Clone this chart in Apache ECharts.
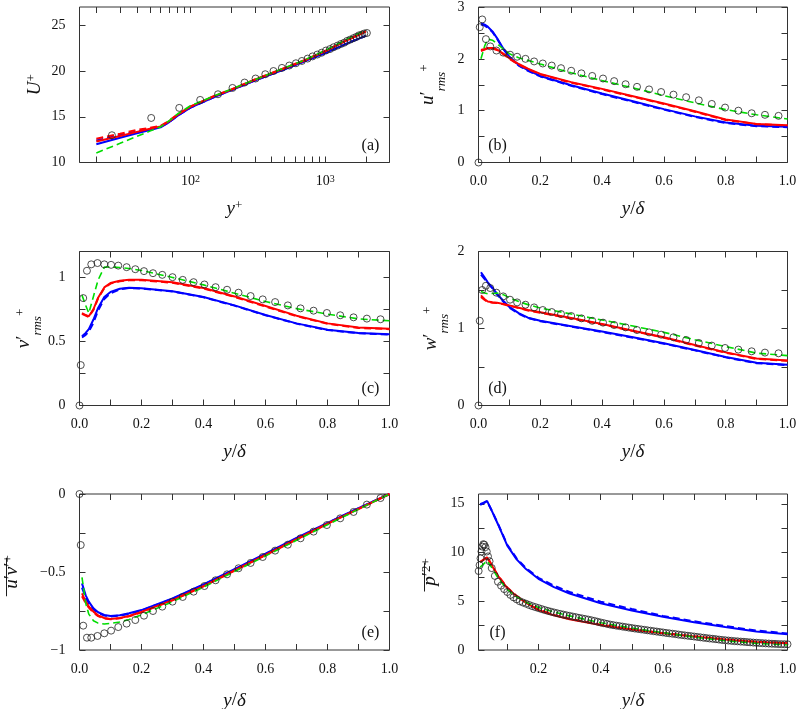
<!DOCTYPE html>
<html><head><meta charset="utf-8">
<script src="https://cdn.jsdelivr.net/npm/echarts@6/dist/echarts.min.js"></script>
<style>html,body{margin:0;padding:0;background:#fff}#c{width:800px;height:709px}</style>
</head><body><div id="c"></div>
<script>
// ---------------- DATA ----------------
// (a) mean velocity, log abscissa y+
const yPlusDNS = [26.1, 51.1, 82.5, 118, 160, 205, 252, 304, 359, 413, 477, 541, 606, 671, 740, 805, 873, 940, 1012, 1084, 1153, 1234, 1309, 1384, 1457, 1535, 1623, 1700, 1779, 1872, 1949, 2038];
const uPlusDNS  = [12.98, 14.87, 15.97, 16.84, 17.46, 18.15, 18.74, 19.18, 19.65, 20.0, 20.34, 20.6, 20.85, 21.1, 21.36, 21.6, 21.8, 22.0, 22.24, 22.4, 22.6, 22.78, 22.96, 23.1, 23.3, 23.44, 23.6, 23.73, 23.9, 23.99, 24.1, 24.16];
const yPlusModel = [20, 30, 40, 50, 60, 70, 80, 100, 150, 200, 300, 500, 700, 1000, 1500, 2000];
const uBlueSolid  = [12.0, 12.7, 13.2, 13.55, 13.85, 14.45, 15.1, 16.0, 17.15, 17.9, 18.95, 20.2, 21.05, 21.95, 23.1, 23.85];
const uBlueDashed = [12.4, 13.0, 13.4, 13.7, 13.9, 14.45, 15.1, 16.0, 17.15, 17.9, 18.95, 20.2, 21.05, 21.95, 23.1, 23.85];
const uRedSolid   = [12.3, 12.9, 13.35, 13.7, 13.95, 14.55, 15.2, 16.1, 17.25, 17.95, 19.05, 20.3, 21.15, 22.15, 23.45, 24.3];
const uRedDashed  = [12.6, 13.15, 13.55, 13.8, 14.0, 14.6, 15.25, 16.12, 17.27, 17.97, 19.07, 20.33, 21.18, 22.2, 23.5, 24.35];
const uGreenDashed= [11.05, 12.1, 12.85, 13.43, 13.9, 14.6, 15.3, 16.2, 17.3, 18.0, 19.05, 20.35, 21.2, 22.25, 23.6, 24.5];

// (b)-(e) DNS points at y/delta
const yDeltaDNS = [0, 0.004, 0.012, 0.024, 0.038, 0.058, 0.08, 0.102, 0.125, 0.152, 0.18, 0.208, 0.237, 0.267, 0.3, 0.333, 0.368, 0.403, 0.439, 0.476, 0.513, 0.552, 0.591, 0.631, 0.672, 0.713, 0.755, 0.798, 0.841, 0.884, 0.927, 0.971];
const uRmsDNS = [0, 2.61, 2.76, 2.38, 2.24, 2.16, 2.12, 2.08, 2.04, 2.0, 1.95, 1.91, 1.87, 1.82, 1.77, 1.72, 1.67, 1.62, 1.57, 1.51, 1.46, 1.41, 1.36, 1.31, 1.26, 1.2, 1.13, 1.06, 1.0, 0.95, 0.92, 0.90];
const vRmsDNS = [0, 0.315, 0.837, 1.05, 1.10, 1.11, 1.10, 1.096, 1.09, 1.078, 1.062, 1.047, 1.031, 1.018, 1.0, 0.979, 0.961, 0.943, 0.922, 0.902, 0.879, 0.853, 0.827, 0.806, 0.78, 0.757, 0.739, 0.721, 0.703, 0.687, 0.677, 0.672];
const wRmsDNS = [0, 1.10, 1.50, 1.555, 1.525, 1.465, 1.417, 1.374, 1.339, 1.309, 1.274, 1.24, 1.214, 1.188, 1.162, 1.132, 1.10, 1.076, 1.045, 1.015, 0.98, 0.95, 0.92, 0.886, 0.851, 0.812, 0.778, 0.747, 0.726, 0.704, 0.687, 0.678];
const uvDNS   = [0, -0.327, -0.844, -0.921, -0.921, -0.91, -0.893, -0.876, -0.853, -0.831, -0.808, -0.78, -0.75, -0.722, -0.69, -0.66, -0.626, -0.59, -0.553, -0.515, -0.476, -0.442, -0.404, -0.363, -0.325, -0.284, -0.241, -0.199, -0.156, -0.115, -0.068, -0.026];

// (b)-(e) model curves
const yDeltaModel = [0.008, 0.02, 0.03, 0.045, 0.06, 0.08, 0.1, 0.13, 0.16, 0.2, 0.3, 0.4, 0.5, 0.6, 0.7, 0.8, 0.9, 1.0];
const uRmsBlueSolid  = [2.69, 2.66, 2.62, 2.53, 2.40, 2.20, 2.04, 1.88, 1.78, 1.67, 1.49, 1.33, 1.18, 1.03, 0.89, 0.77, 0.71, 0.69];
const uRmsBlueDashed = [2.66, 2.64, 2.60, 2.52, 2.39, 2.19, 2.03, 1.87, 1.77, 1.66, 1.48, 1.32, 1.17, 1.02, 0.88, 0.76, 0.70, 0.68];
const uRmsRedSolid   = [2.17, 2.19, 2.21, 2.21, 2.18, 2.10, 2.01, 1.90, 1.81, 1.71, 1.55, 1.42, 1.28, 1.14, 0.99, 0.83, 0.745, 0.72];
const uRmsRedDashed  = [2.15, 2.18, 2.20, 2.20, 2.17, 2.09, 2.00, 1.89, 1.80, 1.70, 1.54, 1.41, 1.27, 1.13, 0.98, 0.82, 0.74, 0.715];
const uRmsGreenDashed= [2.0, 2.25, 2.38, 2.36, 2.29, 2.19, 2.10, 2.02, 1.97, 1.90, 1.73, 1.58, 1.44, 1.29, 1.15, 1.02, 0.92, 0.84];

const vRmsBlueSolid  = [0.54, 0.565, 0.595, 0.67, 0.76, 0.845, 0.885, 0.91, 0.917, 0.914, 0.89, 0.845, 0.78, 0.705, 0.64, 0.59, 0.565, 0.555];
const vRmsBlueDashed = [0.53, 0.55, 0.575, 0.645, 0.74, 0.83, 0.875, 0.905, 0.915, 0.912, 0.888, 0.843, 0.778, 0.703, 0.638, 0.588, 0.563, 0.553];
const vRmsRedSolid   = [0.72, 0.705, 0.695, 0.75, 0.84, 0.92, 0.955, 0.972, 0.979, 0.98, 0.96, 0.915, 0.85, 0.775, 0.70, 0.64, 0.607, 0.598];
const vRmsRedDashed  = [0.715, 0.70, 0.69, 0.745, 0.835, 0.915, 0.95, 0.968, 0.975, 0.976, 0.956, 0.911, 0.846, 0.771, 0.696, 0.637, 0.604, 0.595];
const vRmsGreenDashed= [0.86, 0.78, 0.72, 0.85, 0.978, 1.078, 1.08, 1.075, 1.068, 1.052, 0.998, 0.94, 0.875, 0.81, 0.755, 0.712, 0.675, 0.66];

const wRmsBlueSolid  = [1.73, 1.66, 1.60, 1.53, 1.45, 1.36, 1.28, 1.2, 1.14, 1.10, 1.03, 0.96, 0.886, 0.808, 0.721, 0.63, 0.555, 0.53];
const wRmsBlueDashed = [1.70, 1.64, 1.59, 1.52, 1.44, 1.35, 1.27, 1.19, 1.135, 1.095, 1.025, 0.955, 0.88, 0.803, 0.716, 0.625, 0.55, 0.525];
const wRmsRedSolid   = [1.43, 1.38, 1.35, 1.34, 1.335, 1.32, 1.30, 1.27, 1.24, 1.21, 1.136, 1.058, 0.972, 0.886, 0.786, 0.69, 0.61, 0.585];
const wRmsRedDashed  = [1.41, 1.37, 1.345, 1.335, 1.33, 1.315, 1.295, 1.265, 1.235, 1.205, 1.13, 1.053, 0.967, 0.88, 0.78, 0.685, 0.605, 0.58];
const wRmsGreenDashed= [1.48, 1.46, 1.45, 1.455, 1.46, 1.44, 1.40, 1.35, 1.31, 1.266, 1.188, 1.11, 1.032, 0.95, 0.855, 0.765, 0.68, 0.648];

const uvBlueSolid  = [-0.573, -0.65, -0.69, -0.733, -0.758, -0.775, -0.782, -0.777, -0.765, -0.744, -0.669, -0.579, -0.481, -0.382, -0.282, -0.185, -0.09, 0];
const uvBlueDashed = [-0.6, -0.665, -0.70, -0.74, -0.763, -0.779, -0.785, -0.78, -0.768, -0.747, -0.672, -0.582, -0.484, -0.385, -0.285, -0.187, -0.092, 0];
const uvRedSolid   = [-0.637, -0.69, -0.72, -0.754, -0.778, -0.795, -0.801, -0.795, -0.782, -0.756, -0.68, -0.59, -0.49, -0.39, -0.29, -0.19, -0.095, 0];
const uvRedDashed  = [-0.655, -0.70, -0.728, -0.76, -0.783, -0.798, -0.803, -0.797, -0.784, -0.758, -0.682, -0.592, -0.492, -0.392, -0.292, -0.192, -0.096, 0];
const uvGreenDashed= [-0.534, -0.70, -0.77, -0.812, -0.828, -0.833, -0.83, -0.82, -0.805, -0.775, -0.69, -0.597, -0.497, -0.397, -0.297, -0.197, -0.098, 0];

// (f) pressure fluctuations
const pDeltaDNS = [0.008, 0.011, 0.014, 0.017, 0.02, 0.023, 0.026, 0.03, 0.034, 0.038, 0.043, 0.05, 0.06, 0.07, 0.08, 0.09,
  0.1, 0.11, 0.12, 0.13, 0.14, 0.15, 0.16, 0.17, 0.18, 0.19, 0.2, 0.21, 0.22, 0.23, 0.24, 0.25, 0.26, 0.27, 0.28, 0.29,
  0.3, 0.31, 0.32, 0.33, 0.34, 0.35, 0.36, 0.37, 0.38, 0.39, 0.4, 0.41, 0.42, 0.43, 0.44, 0.45, 0.46, 0.47, 0.48, 0.49,
  0.5, 0.51, 0.52, 0.53, 0.54, 0.55, 0.56, 0.57, 0.58, 0.59, 0.6, 0.61, 0.62, 0.63, 0.64, 0.65, 0.66, 0.67, 0.68, 0.69,
  0.7, 0.71, 0.72, 0.73, 0.74, 0.75, 0.76, 0.77, 0.78, 0.79, 0.8, 0.81, 0.82, 0.83, 0.84, 0.85, 0.86, 0.87, 0.88, 0.89,
  0.9, 0.91, 0.92, 0.93, 0.94, 0.95, 0.96, 0.97, 0.98, 0.99, 1.0];
const pDNS = [8.1, 8.7, 9.4, 10.1, 10.6, 10.85, 10.8, 10.55, 10.1, 9.6, 9.1, 8.4, 7.6, 7.0, 6.6, 6.25,
  5.95, 5.65, 5.4, 5.2, 5.0, 4.87, 4.75, 4.62, 4.5, 4.4, 4.3, 4.2, 4.1, 4.01, 3.93, 3.85, 3.77, 3.7, 3.63, 3.56,
  3.5, 3.43, 3.37, 3.3, 3.24, 3.18, 3.12, 3.05, 2.98, 2.9, 2.82, 2.75, 2.68, 2.61, 2.55, 2.5, 2.45, 2.4, 2.35, 2.3,
  2.25, 2.2, 2.16, 2.11, 2.07, 2.02, 1.98, 1.93, 1.89, 1.84, 1.8, 1.75, 1.71, 1.67, 1.63, 1.58, 1.54, 1.5, 1.46, 1.42,
  1.38, 1.34, 1.3, 1.26, 1.22, 1.18, 1.15, 1.11, 1.07, 1.03, 1.0, 0.97, 0.94, 0.91, 0.89, 0.86, 0.84, 0.81, 0.79, 0.76,
  0.74, 0.72, 0.7, 0.68, 0.66, 0.64, 0.63, 0.61, 0.6, 0.595, 0.59];
const pDeltaModel = [0.013, 0.02, 0.035, 0.05, 0.07, 0.1, 0.13, 0.16, 0.2, 0.25, 0.3, 0.4, 0.5, 0.6, 0.7, 0.8, 0.9, 1.0];
const pBlueSolid  = [14.95, 15.05, 15.3, 14.3, 12.9, 10.7, 9.3, 8.3, 7.3, 6.45, 5.8, 4.8, 4.05, 3.4, 2.85, 2.35, 1.9, 1.62];
const pBlueDashed = [14.9, 15.0, 15.25, 14.3, 12.95, 10.8, 9.4, 8.4, 7.4, 6.6, 5.95, 4.95, 4.2, 3.5, 2.95, 2.45, 2.0, 1.7];
const pRedSolid   = [9.0, 9.15, 9.5, 8.7, 7.6, 6.35, 5.5, 4.85, 4.1, 3.55, 3.15, 2.55, 2.1, 1.72, 1.38, 1.07, 0.82, 0.68];
const pRedDashed  = [9.05, 9.2, 9.55, 8.75, 7.65, 6.4, 5.55, 4.9, 4.15, 3.6, 3.2, 2.6, 2.13, 1.75, 1.4, 1.09, 0.84, 0.7];
const pGreenDashed= [8.5, 8.7, 9.15, 8.45, 7.4, 6.2, 5.45, 4.9, 4.35, 3.9, 3.5, 2.8, 2.25, 1.77, 1.33, 0.95, 0.68, 0.52];

// ticks & labels
const ticksLogA  = [20, 30, 40, 50, 60, 70, 80, 90, 100, 200, 300, 400, 500, 600, 700, 800, 900, 1000, 2000];
const labelsLogA = [100, 1000];
const ticksYA = [10, 15, 20, 25];
const ticksDelta  = [0, 0.1, 0.2, 0.3, 0.4, 0.5, 0.6, 0.7, 0.8, 0.9, 1.0];
const labelsDelta = [0, 0.2, 0.4, 0.6, 0.8, 1.0];
const ticksDeltaF  = [0.1, 0.2, 0.3, 0.4, 0.5, 0.6, 0.7, 0.8, 0.9, 1.0];
const labelsDeltaF = [0.2, 0.4, 0.6, 0.8, 1.0];
const ticksYB = [0, 0.5, 1, 1.5, 2, 2.5, 3];     const labelsYB = [0, 1, 2, 3];
const ticksYC = [0, 0.25, 0.5, 0.75, 1.0];       const labelsYC = [0, 0.5, 1];
const ticksYD = [0, 0.5, 1, 1.5, 2];             const labelsYD = [0, 1, 2];
const ticksYE = [-1, -0.75, -0.5, -0.25, 0];     const labelsYE = [-1, -0.5, 0];
const ticksYF = [0, 2.5, 5, 7.5, 10, 12.5, 15];  const labelsYF = [0, 5, 10, 15];

// ---------------- STYLE / LAYOUT ----------------
const F = 'Liberation Serif';
const INK = '#111';
const BLUE = '#0000ff', RED = '#ff0000', GREEN = '#00dd00';
const COLS = [{left: 79.5, width: 310}, {left: 478.5, width: 309}];
const ROWS = [{top: 7, height: 155.5}, {top: 251.5, height: 154}, {top: 494, height: 156}];

const RICH = {
  it:  {fontFamily: F, fontStyle: 'italic', fontSize: 19, color: INK, lineHeight: 30, verticalAlign: 'top'},
  rm:  {fontFamily: F, fontSize: 19, color: INK, lineHeight: 30, verticalAlign: 'top'},
  sup: {fontFamily: F, fontSize: 13, color: INK, lineHeight: 16, verticalAlign: 'top'},
  sup2:{fontFamily: F, fontSize: 13, color: INK, lineHeight: 10, verticalAlign: 'top'},
  sub: {fontFamily: F, fontStyle: 'italic', fontSize: 13, color: INK, lineHeight: 18, verticalAlign: 'bottom'},
  ol:  {fontFamily: F, fontSize: 19, color: INK, lineHeight: 5, padding: [0, 10, 0, 0]},
  b:   {fontFamily: F, fontSize: 14, color: INK, lineHeight: 20, verticalAlign: 'top'},
  e:   {fontFamily: F, fontSize: 10, color: INK, lineHeight: 10, verticalAlign: 'top'}
};

const fmtDelta = v => Number(v).toFixed(1);
const fmtPlain = v => (v < 0 ? '\u2212' + String(Math.abs(v)) : String(v));
const fmtPow = v => '{b|10}{e|' + Math.round(Math.log10(v)) + '}';

const grids = [], xAxes = [], yAxes = [], series = [], graphics = [];

function axisPair(gi, cfg, isX, name, nameGap) {
  const common = {
    type: cfg.type || 'value', gridIndex: gi, min: cfg.min, max: cfg.max,
    axisLine: {show: false, onZero: false},
    splitLine: {show: false},
    axisTick: {show: true, inside: true, length: 6, lineStyle: {color: '#333', width: 1}, customValues: cfg.ticks}
  };
  if (cfg.type === 'log') common.logBase = 10;
  const main = Object.assign({}, common, {
    position: isX ? 'bottom' : 'left',
    axisLabel: {show: true, customValues: cfg.labels, formatter: cfg.fmt, margin: isX ? 12 : 14,
      fontFamily: F, fontSize: 14, color: INK, rich: RICH},
    name: name, nameLocation: 'middle', nameGap: nameGap,
    nameRotate: isX ? 0 : 90,
    nameTextStyle: {fontFamily: F, fontSize: 19, color: INK, rich: RICH}
  });
  const mirror = Object.assign({}, common, {position: isX ? 'top' : 'right', axisLabel: {show: false}});
  return [main, mirror];
}

function lineSeries(gi, name, xs, ys, color, dashed, width) {
  return {
    type: 'line', name: name, xAxisIndex: 2 * gi, yAxisIndex: 2 * gi,
    data: xs.map((x, i) => [x, ys[i]]),
    showSymbol: false, symbol: 'none', silent: true, animation: false,
    lineStyle: {color: color, width: width, type: dashed ? [7, 4] : 'solid'},
    itemStyle: {color: color}
  };
}
function dnsSeries(gi, xs, ys) {
  return {
    type: 'scatter', name: 'DNS', xAxisIndex: 2 * gi, yAxisIndex: 2 * gi,
    data: xs.map((x, i) => [x, ys[i]]),
    symbol: 'circle', symbolSize: 7, clip: false, silent: true, animation: false,
    itemStyle: {color: 'rgba(0,0,0,0)', borderColor: '#222', borderWidth: 1}, z: 5
  };
}

function panel(gi, col, row, xcfg, ycfg, xName, xGap, yName, yGap, tag, tagSide, curves, dns) {
  const g = {left: COLS[col].left, top: ROWS[row].top, width: COLS[col].width, height: ROWS[row].height,
    show: true, borderColor: '#333', borderWidth: 1, backgroundColor: 'transparent', containLabel: false, outerBoundsMode: 'none'};
  grids.push(g);
  xAxes.push(...axisPair(gi, xcfg, true, xName, xGap));
  yAxes.push(...axisPair(gi, ycfg, false, yName, yGap));
  curves.forEach(c => series.push(lineSeries(gi, c[0], c[1], c[2], c[3], c[4], c[5])));
  series.push(dnsSeries(gi, dns[0], dns[1]));
  const tx = tagSide === 'r' ? g.left + g.width - 19 : g.left + 19;
  graphics.push({type: 'text', x: tx, y: g.top + g.height - 17,
    style: {text: tag, font: '16px "' + F + '"', fill: INK, textAlign: 'center', textVerticalAlign: 'middle'}});
}

const X_DELTA = {min: 0, max: 1, ticks: ticksDelta, labels: labelsDelta, fmt: fmtDelta};
const NAME_YD = '{it|y}{rm|/}{it|δ}';

function curves5(xs, bs, bd, rs, rd, gd) {
  return [
    ['model A', xs, bs, BLUE, false, 2],
    ['model A (dashed)', xs, bd, BLUE, true, 2],
    ['model B', xs, rs, RED, false, 2],
    ['model B (dashed)', xs, rd, RED, true, 2],
    ['model C', xs, gd, GREEN, true, 1.6]
  ];
}

panel(0, 0, 0,
  {type: 'log', min: 15, max: 3000, ticks: ticksLogA, labels: labelsLogA, fmt: fmtPow},
  {min: 10, max: 27, ticks: ticksYA, labels: ticksYA, fmt: fmtPlain},
  '{it|y}{sup|+}', 37, '{it|U}{sup|+}', 24, '(a)', 'r',
  curves5(yPlusModel, uBlueSolid, uBlueDashed, uRedSolid, uRedDashed, uGreenDashed), [yPlusDNS, uPlusDNS]);

panel(1, 1, 0, X_DELTA,
  {min: 0, max: 3, ticks: ticksYB, labels: labelsYB, fmt: fmtPlain},
  NAME_YD, 37, '{it|u}{rm|′}{sub|rms}{sup|+}', 30, '(b)', 'l',
  curves5(yDeltaModel, uRmsBlueSolid, uRmsBlueDashed, uRmsRedSolid, uRmsRedDashed, uRmsGreenDashed), [yDeltaDNS, uRmsDNS]);

panel(2, 0, 1, X_DELTA,
  {min: 0, max: 1.2, ticks: ticksYC, labels: labelsYC, fmt: fmtPlain},
  NAME_YD, 37, '{it|v}{rm|′}{sub|rms}{sup|+}', 29, '(c)', 'r',
  curves5(yDeltaModel, vRmsBlueSolid, vRmsBlueDashed, vRmsRedSolid, vRmsRedDashed, vRmsGreenDashed), [yDeltaDNS, vRmsDNS]);

panel(3, 1, 1, X_DELTA,
  {min: 0, max: 2, ticks: ticksYD, labels: labelsYD, fmt: fmtPlain},
  NAME_YD, 37, '{it|w}{rm|′}{sub|rms}{sup|+}', 27, '(d)', 'l',
  curves5(yDeltaModel, wRmsBlueSolid, wRmsBlueDashed, wRmsRedSolid, wRmsRedDashed, wRmsGreenDashed), [yDeltaDNS, wRmsDNS]);

panel(4, 0, 2, X_DELTA,
  {min: -1, max: 0, ticks: ticksYE, labels: labelsYE, fmt: fmtPlain},
  NAME_YD, 41, '{ol|____}\n{it|u}{rm|′}{it|v}{rm|′}{sup|+}', 47, '(e)', 'r',
  curves5(yDeltaModel, uvBlueSolid, uvBlueDashed, uvRedSolid, uvRedDashed, uvGreenDashed), [yDeltaDNS, uvDNS]);

panel(5, 1, 2,
  {min: 0.0075, max: 1, ticks: ticksDeltaF, labels: labelsDeltaF, fmt: fmtDelta},
  {min: 0, max: 16, ticks: ticksYF, labels: labelsYF, fmt: fmtPlain},
  NAME_YD, 41, '{ol|___}\n{it|p}{rm|′}{sup|2}{sup2|+}', 28, '(f)', 'l',
  curves5(pDeltaModel, pBlueSolid, pBlueDashed, pRedSolid, pRedDashed, pGreenDashed), [pDeltaDNS, pDNS]);

const chart = echarts.init(document.getElementById('c'), null, {renderer: 'canvas'});
chart.setOption({
  animation: false,
  backgroundColor: '#fff',
  grid: grids, xAxis: xAxes, yAxis: yAxes, series: series, graphic: graphics
});
</script></body></html>
